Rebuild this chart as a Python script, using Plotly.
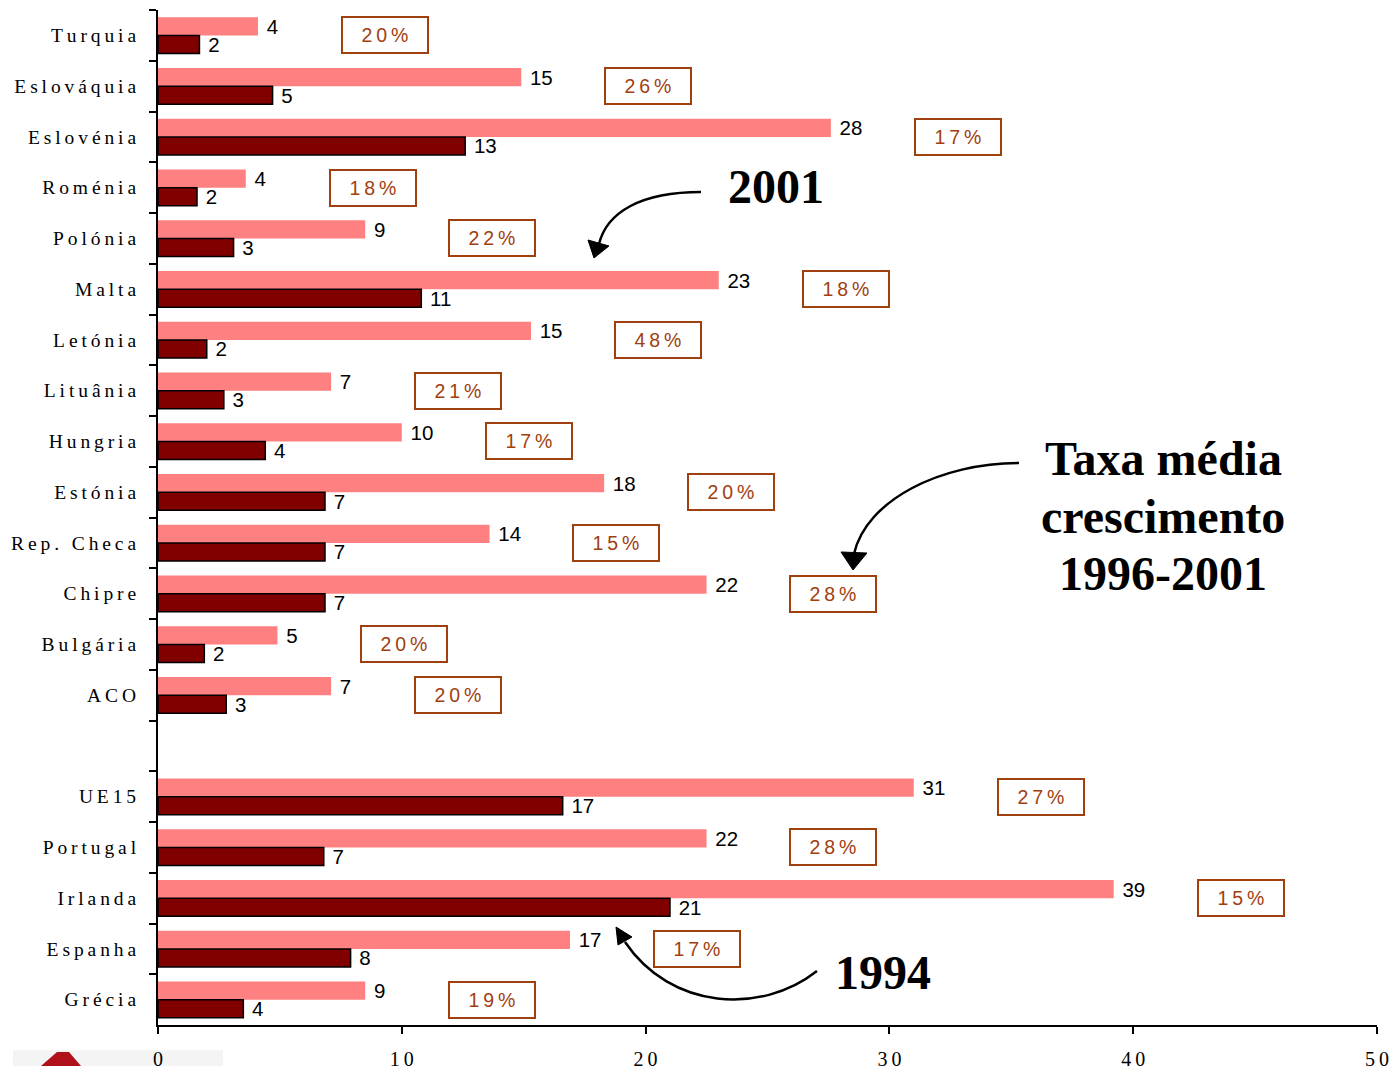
import plotly.graph_objects as go

# ---------------- data ----------------
candidates = ["Turquia", "Eslováquia", "Eslovénia", "Roménia", "Polónia", "Malta",
              "Letónia", "Lituânia", "Hungria", "Estónia", "Rep. Checa", "Chipre",
              "Bulgária", "ACO"]
eu_members = ["UE15", "Portugal", "Irlanda", "Espanha", "Grécia"]

cand_2001 = [4.1, 14.9, 27.6, 3.6, 8.5, 23.0, 15.3, 7.1, 10.0, 18.3, 13.6, 22.5, 4.9, 7.1]
cand_1994 = [1.7, 4.7, 12.6, 1.6, 3.1, 10.8, 2.0, 2.7, 4.4, 6.85, 6.85, 6.85, 1.9, 2.8]
eu_2001 = [31.0, 22.5, 39.2, 16.9, 8.5]
eu_1994 = [16.6, 6.8, 21.0, 7.9, 3.5]

cand_lbl_2001 = [4, 15, 28, 4, 9, 23, 15, 7, 10, 18, 14, 22, 5, 7]
cand_lbl_1994 = [2, 5, 13, 2, 3, 11, 2, 3, 4, 7, 7, 7, 2, 3]
eu_lbl_2001 = [31, 22, 39, 17, 9]
eu_lbl_1994 = [17, 7, 21, 8, 4]

cand_growth = ["20%", "26%", "17%", "18%", "22%", "18%", "48%", "21%", "17%",
               "20%", "15%", "28%", "20%", "20%"]
eu_growth = ["27%", "28%", "15%", "17%", "19%"]

x_ticks = [0, 10, 20, 30, 40, 50]

# ---------------- helpers ----------------
SP = "\u2009"
NB = "\u00a0"


def spaced(s):
    return SP.join(list(s))


GAP = SP  # empty spacer category between the two groups

y_cats = [spaced(c) for c in candidates] + [GAP] + [spaced(c) for c in eu_members]
v2001 = cand_2001 + [None] + eu_2001
v1994 = cand_1994 + [None] + eu_1994
t2001 = [NB + str(v) for v in cand_lbl_2001] + [""] + [NB + str(v) for v in eu_lbl_2001]
t1994 = [NB + str(v) for v in cand_lbl_1994] + [""] + [NB + str(v) for v in eu_lbl_1994]
growth = cand_growth + [None] + eu_growth

PINK = "#FF8080"
DARK = "#800000"
BROWN = "#A0400F"

fig = go.Figure()
fig.add_trace(go.Bar(
    orientation="h", y=y_cats, x=v2001, name="2001",
    marker=dict(color=PINK, line=dict(width=0)),
    text=t2001, textposition="outside", constraintext="none", cliponaxis=False,
    textfont=dict(family="Liberation Sans", size=20.5, color="black"),
))
fig.add_trace(go.Bar(
    orientation="h", y=y_cats, x=v1994, name="1994",
    marker=dict(color=DARK, line=dict(color="black", width=1.5)),
    text=t1994, textposition="outside", constraintext="none", cliponaxis=False,
    textfont=dict(family="Liberation Sans", size=20.5, color="black"),
))

# target geometry in reference pixels; the page is photographed slightly scaled,
# so the figure is drawn a little larger to compensate
SX, SY = 1213 / 1219, 1002 / 1015
W, H = round(1392 / SX), round(1066 / SY)
L, R, T, B = 157 / SX, 1376 / SX, 10 / SY, 1025 / SY


def px(x, y):
    return (x / SX - L) / (R - L), (B - y / SY) / (B - T)


def path(points, cmd):
    out = []
    for c, pts in zip(cmd, points):
        seg = c + " " + " ".join("%.5f %.5f" % px(*p) for p in pts)
        out.append(seg)
    return " ".join(out)


annotations = []
for cat, g, v in zip(y_cats, growth, v2001):
    if g is None:
        continue
    annotations.append(dict(
        x=v + 3.4, y=cat, xref="x", yref="y", xanchor="left", yanchor="middle",
        text=spaced(g), showarrow=False,
        font=dict(family="Liberation Sans", size=19.5, color=BROWN),
        bordercolor=BROWN, borderwidth=2, borderpad=2, bgcolor="white",
        width=80, height=30,
    ))

big_font = dict(family="Liberation Serif", size=48, color="black")
for txt, (cx, cy) in [("<b>2001</b>", (775, 187)),
                      ("<b>Taxa média</b>", (1162, 459)),
                      ("<b>crescimento</b>", (1162, 516)),
                      ("<b>1996-2001</b>", (1162, 573)),
                      ("<b>1994</b>", (882, 972))]:
    xx, yy = px(cx, cy)
    annotations.append(dict(x=xx, y=yy, xref="paper", yref="paper", text=txt,
                            showarrow=False, xanchor="center", yanchor="middle",
                            font=big_font))

shapes = []
arrow_line = dict(color="black", width=2.5)
# 2001 arrow
shapes.append(dict(type="path", xref="paper", yref="paper", layer="above",
                   path=path([[(700, 192)], [(640, 192), (606, 212), (598, 244)]], ["M", "C"]),
                   line=arrow_line))
shapes.append(dict(type="path", xref="paper", yref="paper", layer="above",
                   path=path([[(593, 258)], [(587, 240)], [(608, 246)]], ["M", "L", "L"]) + " Z",
                   fillcolor="black", line=dict(color="black", width=1)))
# Taxa arrow
shapes.append(dict(type="path", xref="paper", yref="paper", layer="above",
                   path=path([[(1018, 463)], [(940, 463), (865, 500), (853, 554)]], ["M", "C"]),
                   line=arrow_line))
shapes.append(dict(type="path", xref="paper", yref="paper", layer="above",
                   path=path([[(852, 570)], [(840, 552)], [(866, 553)]], ["M", "L", "L"]) + " Z",
                   fillcolor="black", line=dict(color="black", width=1)))
# 1994 arrow
shapes.append(dict(type="path", xref="paper", yref="paper", layer="above",
                   path=path([[(816, 971)], [(760, 1015), (670, 1010), (624, 942)]], ["M", "C"]),
                   line=arrow_line))
shapes.append(dict(type="path", xref="paper", yref="paper", layer="above",
                   path=path([[(615, 927)], [(631, 937)], [(617, 945)]], ["M", "L", "L"]) + " Z",
                   fillcolor="black", line=dict(color="black", width=1)))
# logo fragment at bottom left
shapes.append(dict(type="path", xref="paper", yref="paper", layer="below",
                   path=path([[(12, 1050)], [(222, 1050)], [(222, 1066)], [(12, 1066)]], ["M", "L", "L", "L"]) + " Z",
                   fillcolor="#F4F4F4", line=dict(width=0)))
shapes.append(dict(type="path", xref="paper", yref="paper", layer="above",
                   path=path([[(40, 1066)], [(56, 1052)], [(68, 1052)], [(80, 1066)]], ["M", "L", "L", "L"]) + " Z",
                   fillcolor="#B0101A", line=dict(width=0)))

fig.update_layout(
    width=W, height=H,
    margin=dict(l=L, r=W - R, t=T, b=H - B, pad=0),
    paper_bgcolor="white", plot_bgcolor="white",
    barmode="group", bargap=0.29, bargroupgap=0,
    showlegend=False,
    annotations=annotations, shapes=shapes,
    xaxis=dict(range=[0, 50], tickmode="array", tickvals=x_ticks,
               ticktext=[spaced(str(v)) for v in x_ticks],
               ticks="outside", ticklen=7, tickwidth=2, tickcolor="black",
               showline=True, linecolor="black", linewidth=2,
               showgrid=False, zeroline=False, ticklabelstandoff=8,
               tickfont=dict(family="Liberation Serif", size=20, color="black")),
    yaxis=dict(type="category", categoryorder="array", categoryarray=y_cats,
               range=[len(y_cats) - 0.5, -0.5],
               ticks="outside", tickson="boundaries", ticklen=7, tickwidth=2,
               tickcolor="black", showline=True, linecolor="black", linewidth=2,
               showgrid=False, zeroline=False, ticklabelstandoff=16,
               tickfont=dict(family="Liberation Serif", size=19.5, color="black")),
)

fig.write_html("out.html", config={"displayModeBar": False},
               post_script="document.body.style.margin='0';document.body.style.overflow='hidden';")
